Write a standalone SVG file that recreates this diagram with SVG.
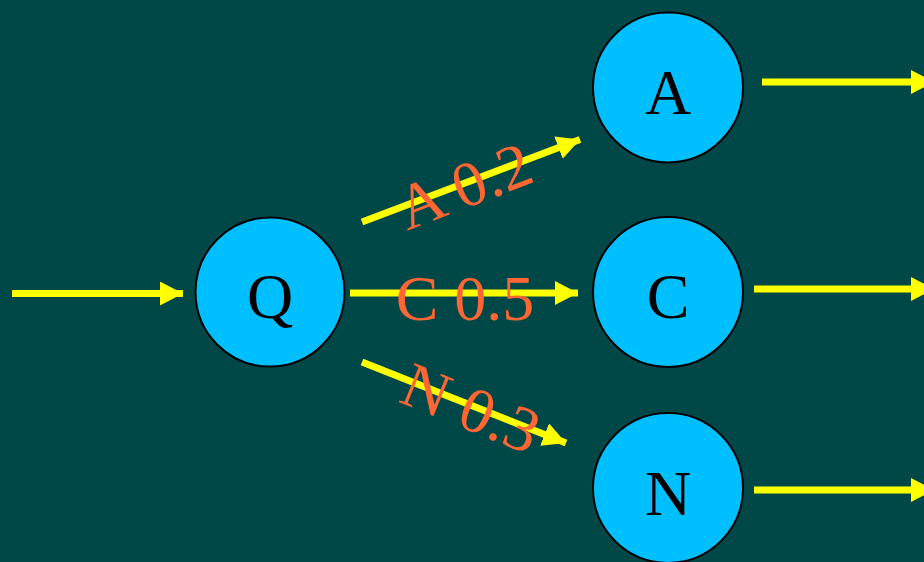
<svg xmlns="http://www.w3.org/2000/svg" width="924" height="562" viewBox="0 0 924 562">
<style>
.node{fill:#00BFFF;stroke:#000;stroke-width:2}
.nl{font-family:"Liberation Serif","Times New Roman",serif;font-size:64px;fill:#000;text-anchor:middle}
.edge{stroke:#FFFF00;stroke-width:7;fill:none}
.el{font-family:"Liberation Serif","Times New Roman",serif;font-size:64px;fill:#FF6633;text-anchor:middle}
</style>
<defs>
<marker id="ah" markerUnits="userSpaceOnUse" markerWidth="26" markerHeight="26" refX="23" refY="12" orient="auto">
<path d="M0,0 L23,12 L0,24 Z" fill="#FFFF00"/>
</marker>
</defs>
<rect width="924" height="562" fill="#004848"/>
<g id="connectors">
<line class="edge" x1="12" y1="293.5" x2="183" y2="293.5" marker-end="url(#ah)"/>
<line class="edge" x1="362" y1="222" x2="580" y2="139.5" marker-end="url(#ah)"/>
<line class="edge" x1="350" y1="293" x2="578" y2="293" marker-end="url(#ah)"/>
<line class="edge" x1="362" y1="362" x2="566" y2="443" marker-end="url(#ah)"/>
<line class="edge" x1="762" y1="82" x2="934" y2="82" marker-end="url(#ah)"/>
<line class="edge" x1="754" y1="289" x2="934" y2="289" marker-end="url(#ah)"/>
<line class="edge" x1="754" y1="490" x2="934" y2="490" marker-end="url(#ah)"/>
<text class="el" transform="translate(472,206) rotate(-21)">A 0.2</text>
<text class="el" x="465" y="320">C 0.5</text>
<text class="el" transform="translate(463,428) rotate(22)">N 0.3</text>
</g>
<g id="Q"><circle class="node" cx="270" cy="292" r="74.5"/><text class="nl" x="270" y="318">Q</text></g>
<g id="A"><circle class="node" cx="668" cy="87.5" r="75"/><text class="nl" x="668" y="114">A</text></g>
<g id="C"><circle class="node" cx="668" cy="292" r="75"/><text class="nl" x="668" y="318">C</text></g>
<g id="N"><circle class="node" cx="668" cy="488" r="75"/><text class="nl" x="668" y="515">N</text></g>
</svg>
